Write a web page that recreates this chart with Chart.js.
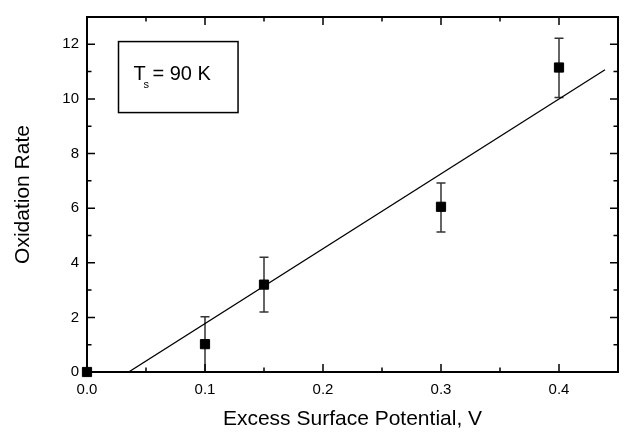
<!DOCTYPE html>
<html>
<head>
<meta charset="utf-8">
<script src="https://cdn.jsdelivr.net/npm/chart.js@4/dist/chart.umd.min.js"></script>
<style>
  html, body { margin: 0; padding: 0; background: #fff; }
  #wrap { width: 627px; height: 432px; }
</style>
</head>
<body>
<div id="wrap"><canvas id="chart" width="627" height="432"></canvas></div>
<script>
// measured points
const potentials = [0.0, 0.1, 0.15, 0.3, 0.4];
const rates = [0.0, 1.02, 3.2, 6.05, 11.15];
const errUpper = [0, 1.0, 1.0, 0.87, 1.07];
const errLower = [0, 1.02, 1.0, 0.92, 1.1];

// fitted line endpoints
const fitX = [0.0353, 0.439];
const fitY = [0.0, 11.07];

// axis ranges and labels
const xRange = [0, 0.45];
const yRange = [0, 13];
const xTitle = 'Excess Surface Potential, V';
const yTitle = 'Oxidation Rate';
const noteBox = { x: [0.0267, 0.128], y: [9.5, 12.1] };

const FONT = '"Liberation Sans", Arial, sans-serif';

// error bars under the markers
const errorBars = {
    id: 'errorBars',
    beforeDatasetsDraw(chart) {
        const { ctx, scales: { x, y } } = chart;
        ctx.save();
        ctx.strokeStyle = '#333';
        ctx.lineWidth = 1.5;
        potentials.forEach((p, i) => {
            if (!errUpper[i] && !errLower[i]) return;
            const px = x.getPixelForValue(p);
            const top = y.getPixelForValue(rates[i] + errUpper[i]);
            const bot = y.getPixelForValue(rates[i] - errLower[i]);
            ctx.beginPath();
            ctx.moveTo(px, top); ctx.lineTo(px, bot);
            ctx.moveTo(px - 4.5, top); ctx.lineTo(px + 4.5, top);
            ctx.moveTo(px - 4.5, bot); ctx.lineTo(px + 4.5, bot);
            ctx.stroke();
        });
        ctx.restore();
    }
};

// frame, inward ticks on all four sides, and the T_s box
const frame = {
    id: 'frame',
    afterDatasetsDraw(chart) {
        const { ctx, chartArea: a, scales: { x, y } } = chart;
        ctx.save();
        ctx.strokeStyle = '#000';
        ctx.lineWidth = 2;
        ctx.strokeRect(a.left, a.top, a.right - a.left, a.bottom - a.top);

        ctx.lineWidth = 1.5;
        ctx.beginPath();
        for (let i = 0; i <= 9; i++) {
            const v = i * 0.05;
            const len = i % 2 === 0 ? 8 : 4.5;
            const px = x.getPixelForValue(v);
            ctx.moveTo(px, a.bottom); ctx.lineTo(px, a.bottom - len);
            ctx.moveTo(px, a.top); ctx.lineTo(px, a.top + len);
        }
        for (let v = 0; v <= 13; v++) {
            const len = v % 2 === 0 ? 8 : 4.5;
            const py = y.getPixelForValue(v);
            ctx.moveTo(a.left, py); ctx.lineTo(a.left + len, py);
            ctx.moveTo(a.right, py); ctx.lineTo(a.right - len, py);
        }
        ctx.stroke();

        // annotation box
        const bl = x.getPixelForValue(noteBox.x[0]);
        const br = x.getPixelForValue(noteBox.x[1]);
        const bt = y.getPixelForValue(noteBox.y[1]);
        const bb = y.getPixelForValue(noteBox.y[0]);
        ctx.lineWidth = 1.5;
        ctx.strokeRect(bl, bt, br - bl, bb - bt);
        ctx.fillStyle = '#000';
        ctx.textBaseline = 'alphabetic';
        ctx.font = '20px ' + FONT;
        ctx.fillText('T', bl + 15, bt + 38);
        ctx.font = '11px ' + FONT;
        ctx.fillText('s', bl + 25, bt + 46);
        ctx.font = '20px ' + FONT;
        ctx.fillText('= 90 K', bl + 34, bt + 38);
        ctx.restore();
    }
};

const ctx = document.getElementById('chart').getContext('2d');
new Chart(ctx, {
    type: 'scatter',
    data: {
        datasets: [
            {
                label: 'fit',
                type: 'line',
                data: fitX.map((v, i) => ({ x: v, y: fitY[i] })),
                borderColor: '#000',
                borderWidth: 1.3,
                pointRadius: 0,
                fill: false,
                order: 2
            },
            {
                label: 'data',
                data: potentials.map((v, i) => ({ x: v, y: rates[i] })),
                pointStyle: 'rect',
                pointRadius: 6.5,
                pointBackgroundColor: '#000',
                pointBorderColor: '#000',
                pointBorderWidth: 1,
                clip: false,
                order: 1
            }
        ]
    },
    options: {
        responsive: false,
        animation: false,
        events: [],
        layout: { autoPadding: false, padding: { top: 13, right: 1, left: 0, bottom: 0 } },
        plugins: {
            legend: { display: false },
            tooltip: { enabled: false }
        },
        scales: {
            x: {
                type: 'linear',
                min: xRange[0],
                max: xRange[1],
                afterFit: s => { s.height = 60; },
                grid: { display: false, drawTicks: false },
                border: { display: false },
                ticks: {
                    stepSize: 0.05,
                    padding: 9,
                    color: '#000',
                    font: { family: FONT, size: 15 },
                    maxRotation: 0,
                    autoSkip: false,
                    callback: v => Math.round(v * 100) % 10 === 0 ? v.toFixed(1) : ''
                },
                title: {
                    display: true,
                    text: xTitle,
                    color: '#000',
                    font: { family: FONT, size: 21 },
                    padding: { top: 0, bottom: 0 }
                }
            },
            y: {
                type: 'linear',
                min: yRange[0],
                max: yRange[1],
                afterFit: s => { s.width = 87; },
                grid: { display: false, drawTicks: false },
                border: { display: false },
                ticks: {
                    stepSize: 1,
                    padding: 8,
                    color: '#000',
                    font: { family: FONT, size: 15 },
                    autoSkip: false,
                    callback: v => v % 2 === 0 ? String(v) : ''
                },
                title: {
                    display: true,
                    text: yTitle,
                    color: '#000',
                    font: { family: FONT, size: 21 },
                    padding: { top: 11, bottom: 0 }
                }
            }
        }
    },
    plugins: [errorBars, frame]
});
</script>
</body>
</html>
